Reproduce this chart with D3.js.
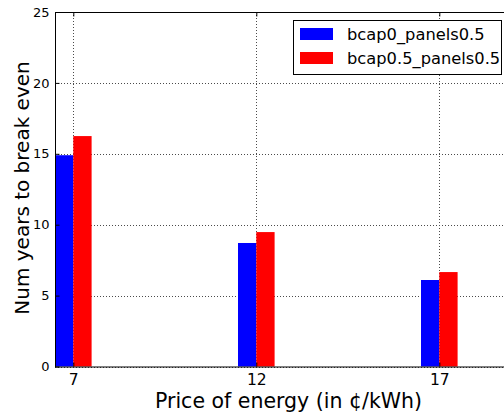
<!DOCTYPE html>
<html>
<head>
<meta charset="utf-8">
<script src="https://cdn.jsdelivr.net/npm/d3@7"></script>
<style>
  html, body { margin: 0; padding: 0; background: #fff; }
  svg { display: block; font-family: "DejaVu Sans", sans-serif; }
</style>
</head>
<body>
<svg id="chart" width="504" height="416"></svg>
<script>
// Break-even years per energy price, for two battery-capacity scenarios
const prices = [7, 12, 17];
const seriesNames = ["bcap0_panels0.5", "bcap0.5_panels0.5"];
const seriesColors = ["#0000ff", "#ff0000"];
const bcap0 = [14.9, 8.71, 6.1];
const bcap05 = [16.25, 9.48, 6.66];
const yTicks = [0, 5, 10, 15, 20, 25];

const series = [bcap0, bcap05];
const barWidth = 0.5; // in price units

const svg = d3.select("#chart");
const margin = { left: 55, top: 12, bottom: 366.5 };
const plotRight = 512.5;

const x = d3.scaleLinear().domain([6.5, 19]).range([margin.left, plotRight]);
const y = d3.scaleLinear().domain([0, 25]).range([margin.bottom, margin.top]);

// Grid
const grid = svg.append("g").attr("stroke", "#000").attr("stroke-width", 1)
  .attr("stroke-dasharray", "1,2").attr("opacity", 0.7);
yTicks.forEach(t => {
  grid.append("line").attr("x1", x(6.5)).attr("x2", plotRight)
    .attr("y1", Math.round(y(t)) + 0.5).attr("y2", Math.round(y(t)) + 0.5);
});
prices.forEach(p => {
  grid.append("line").attr("x1", Math.round(x(p)) + 0.5).attr("x2", Math.round(x(p)) + 0.5)
    .attr("y1", margin.top).attr("y2", margin.bottom);
});

// Bars: blue to the left of the tick, red to the right
series.forEach((vals, si) => {
  svg.append("g").selectAll("rect").data(prices).join("rect")
    .attr("x", (d, i) => x(d + (si - 1) * barWidth))
    .attr("width", x(barWidth) - x(0))
    .attr("y", (d, i) => y(vals[i]))
    .attr("height", (d, i) => y(0) - y(vals[i]))
    .attr("fill", seriesColors[si]);
});

// Frame
svg.append("rect").attr("x", margin.left + 0.5).attr("y", margin.top + 0.5)
  .attr("width", plotRight - margin.left).attr("height", margin.bottom - margin.top)
  .attr("fill", "none").attr("stroke", "#000").attr("stroke-width", 1);

// Axes with inward ticks
const yAxis = d3.axisLeft(y).tickValues(yTicks).tickSize(-4).tickPadding(6);
const gy = svg.append("g").attr("transform", `translate(${margin.left + 0.5},0)`).call(yAxis);
gy.select(".domain").remove();
gy.selectAll("text").attr("font-size", 13).attr("font-family", "DejaVu Sans").attr("fill", "#000");

const yAxisR = d3.axisRight(y).tickValues(yTicks).tickSize(-4).tickFormat("");
svg.append("g").attr("transform", `translate(${plotRight},0)`).call(yAxisR).select(".domain").remove();

const xAxis = d3.axisBottom(x).tickValues(prices).tickSize(-4).tickPadding(7);
const gx = svg.append("g").attr("transform", `translate(0,${margin.bottom})`).call(xAxis);
gx.select(".domain").remove();
gx.selectAll("text").attr("font-size", 15.5).attr("font-family", "DejaVu Sans").attr("fill", "#000");

const xAxisTop = d3.axisTop(x).tickValues(prices).tickSize(-4).tickFormat("");
svg.append("g").attr("transform", `translate(0,${margin.top + 0.5})`).call(xAxisTop).select(".domain").remove();

// Axis titles
svg.append("text").attr("x", 288.5).attr("y", 408).attr("text-anchor", "middle")
  .attr("font-size", 20.5).text("Price of energy (in ¢/kWh)");
svg.append("text").attr("transform", `translate(28.5,188) rotate(-90)`)
  .attr("text-anchor", "middle").attr("font-size", 20).text("Num years to break even");

// Legend
const lg = svg.append("g");
lg.append("rect").attr("x", 293.5).attr("y", 20.5).attr("width", 208).attr("height", 54)
  .attr("fill", "#fff").attr("stroke", "#000").attr("stroke-width", 1);
seriesNames.forEach((name, i) => {
  lg.append("rect").attr("x", 300).attr("y", 28 + i * 24).attr("width", 33).attr("height", 12)
    .attr("fill", seriesColors[i]);
  lg.append("text").attr("x", 347).attr("y", 40 + i * 24).attr("font-size", 16.3).text(name);
});
</script>
</body>
</html>
